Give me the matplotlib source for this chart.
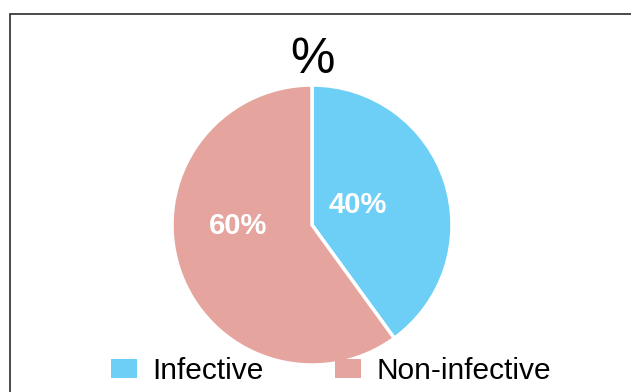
import matplotlib
matplotlib.use('Agg')
import matplotlib.pyplot as plt
from matplotlib.patches import Rectangle, Patch
import numpy as np

# datos
categorias = ["Infective", "Non-infective"]
valores = [40, 60]
colores = ["#6DCFF6", "#E5A59E"]
titulo = "%"

plt.rcParams['font.family'] = ['Liberation Sans', 'DejaVu Sans']

fig = plt.figure(figsize=(6.31, 3.92), dpi=100)

# marco exterior (cortado a la derecha y abajo)
fig.patches.append(Rectangle((10 / 631, -0.1), 1.0, 1.1 - 14 / 392,
                             transform=fig.transFigure, fill=False,
                             edgecolor="#2b2b2b", linewidth=1.2))

ax = fig.add_axes([172 / 631, 27 / 392, 280 / 631, 280 / 392])
wedges, textos, autotextos = ax.pie(
    valores, colors=colores, startangle=90, counterclock=False,
    autopct="%d%%", pctdistance=0.4,
    wedgeprops=dict(edgecolor="white", linewidth=2.5),
    textprops=dict(color="white", fontsize=21, fontweight="bold"))
ax.set_xlim(-1, 1)
ax.set_ylim(-1, 1)
ax.set_aspect("equal")

# ajusto distancia y giro de cada etiqueta
distancias = [0.36, 0.53]
giros = [6, -17]
for w, t, d, g in zip(wedges, autotextos, distancias, giros):
    ang = np.deg2rad((w.theta1 + w.theta2) / 2 + g)
    t.set_position((d * np.cos(ang), d * np.sin(ang)))

fig.text(312 / 631, 1 - 60 / 392, titulo, ha="center", va="center", fontsize=36)

handles = [Patch(facecolor=c, edgecolor="none") for c in colores]
fig.legend(handles, categorias, loc="center", bbox_to_anchor=(331 / 631, 21 / 392),
           ncol=2, frameon=False, fontsize=21.5, handlelength=0.87, handleheight=0.63,
           handletextpad=0.5, columnspacing=2.4, borderpad=0)

fig.savefig("out.png", dpi=100)
